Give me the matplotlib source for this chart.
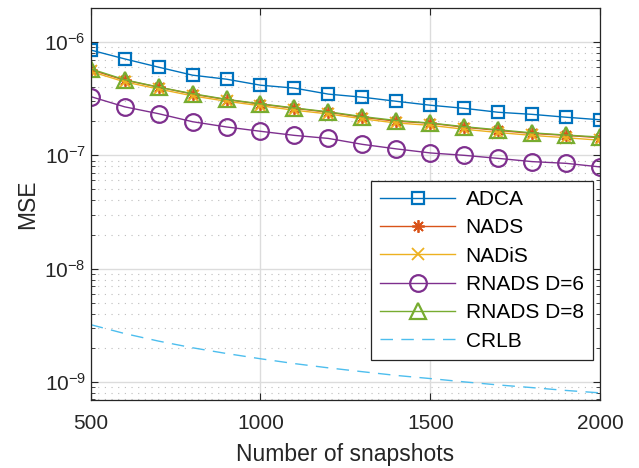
import numpy as np
import matplotlib
matplotlib.use('Agg')
import matplotlib.pyplot as plt
from matplotlib.ticker import LogLocator, NullFormatter

plt.rcParams['font.family'] = ['Liberation Sans', 'DejaVu Sans']
plt.rcParams['mathtext.fontset'] = 'custom'
plt.rcParams['mathtext.rm'] = 'Liberation Sans'

snapshots = [500, 600, 700, 800, 900, 1000, 1100, 1200, 1300, 1400,
             1500, 1600, 1700, 1800, 1900, 2000]

mse_adca = [8.5e-7, 7.1e-7, 6.0e-7, 5.1e-7, 4.7e-7, 4.16e-7, 3.92e-7, 3.47e-7,
            3.26e-7, 3.0e-7, 2.77e-7, 2.6e-7, 2.4e-7, 2.3e-7, 2.17e-7, 2.06e-7]
mse_nads = [5.7e-7, 4.6e-7, 4.0e-7, 3.47e-7, 3.1e-7, 2.83e-7, 2.6e-7, 2.4e-7,
            2.17e-7, 2.0e-7, 1.92e-7, 1.77e-7, 1.66e-7, 1.56e-7, 1.5e-7, 1.43e-7]
mse_nadis = [5.5e-7, 4.45e-7, 3.85e-7, 3.35e-7, 3.0e-7, 2.74e-7, 2.5e-7, 2.32e-7,
             2.1e-7, 1.93e-7, 1.84e-7, 1.7e-7, 1.59e-7, 1.5e-7, 1.43e-7, 1.36e-7]
mse_rnads6 = [3.3e-7, 2.68e-7, 2.33e-7, 1.98e-7, 1.78e-7, 1.63e-7, 1.5e-7, 1.41e-7,
              1.25e-7, 1.14e-7, 1.05e-7, 1.0e-7, 9.4e-8, 8.8e-8, 8.5e-8, 7.9e-8]
mse_rnads8 = [5.8e-7, 4.65e-7, 4.0e-7, 3.5e-7, 3.12e-7, 2.85e-7, 2.62e-7, 2.42e-7,
              2.2e-7, 2.03e-7, 1.93e-7, 1.79e-7, 1.68e-7, 1.58e-7, 1.51e-7, 1.45e-7]
crlb = [3.2e-9, 2.67e-9, 2.29e-9, 2.0e-9, 1.78e-9, 1.6e-9, 1.45e-9, 1.33e-9,
        1.23e-9, 1.14e-9, 1.07e-9, 1.0e-9, 0.94e-9, 0.89e-9, 0.84e-9, 0.8e-9]

text_col = '#262626'

fig = plt.figure(figsize=(6.39, 4.68), dpi=100)
ax = fig.add_axes([0.142, 0.145, 0.797, 0.838])

ax.plot(snapshots, mse_adca, color='#0072BD', lw=1.0, marker='s', ms=9,
        mfc='none', mew=1.6, label='ADCA')
ax.plot(snapshots, mse_nads, color='#D95319', lw=1.0, marker=(8, 2, 0), ms=9,
        mew=1.3, label='NADS')
ax.plot(snapshots, mse_nadis, color='#EDB120', lw=1.0, marker='x', ms=8,
        mew=1.3, label='NADiS')
ax.plot(snapshots, mse_rnads6, color='#7E2F8E', lw=1.0, marker='o', ms=12,
        mfc='none', mew=1.6, label='RNADS D=6')
ax.plot(snapshots, mse_rnads8, color='#77AC30', lw=1.0, marker='^', ms=12,
        mfc='none', mew=1.6, label='RNADS D=8')
ax.plot(snapshots, crlb, color='#4DBEEE', lw=1.0, ls=(0, (9, 6)), label='CRLB')

ax.set_yscale('log')
ax.set_xlim(500, 2000)
ax.set_ylim(6.9e-10, 2.0e-6)
ax.set_xticks([500, 1000, 1500, 2000])
ax.yaxis.set_major_locator(LogLocator(base=10, numticks=10))
ax.yaxis.set_minor_locator(LogLocator(base=10, subs=np.arange(2, 10), numticks=10))
ax.yaxis.set_minor_formatter(NullFormatter())

ax.grid(True, which='major', axis='both', color='#dcdcdc', lw=1.0)
ax.grid(True, which='minor', axis='y', color='#bdbdbd', lw=0.8, ls=(0, (1, 5)))
ax.set_axisbelow(True)

ax.tick_params(which='both', direction='in', top=True, right=True,
               colors=text_col, labelsize=15)
ax.tick_params(which='major', length=5, width=0.8)
ax.tick_params(which='minor', length=3, width=0.6)
ax.tick_params(axis='x', which='major', pad=10)
for s in ax.spines.values():
    s.set_color(text_col)
    s.set_linewidth(0.9)

ax.set_xlabel('Number of snapshots', fontsize=16.5, color=text_col, labelpad=7)
ax.set_ylabel('MSE', fontsize=16.5, color=text_col)

leg = ax.legend(loc='lower right', bbox_to_anchor=(0.986, 0.102), borderaxespad=0,
                fontsize=15, handlelength=3.6, fancybox=False, framealpha=1,
                edgecolor=text_col, labelspacing=0.45, borderpad=0.45,
                handletextpad=0.5)
leg.get_frame().set_linewidth(0.9)

fig.savefig('out.png', dpi=100)
